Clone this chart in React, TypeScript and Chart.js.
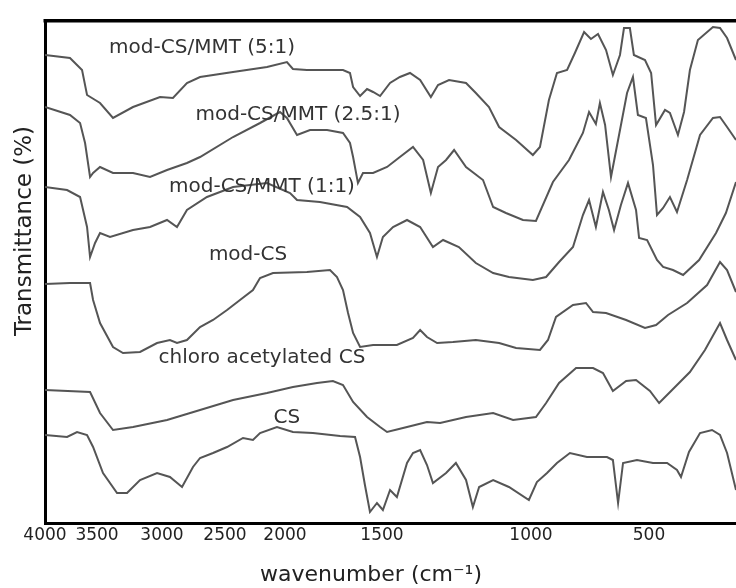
import React, { useEffect, useRef } from 'react';
import { Chart, registerables, LinearScale } from 'chart.js';

// ---- Axis definition (wavenumber axis with segmented scale, as in the original figure) ----
const WAVENUMBER_TICKS = [4000, 3500, 3000, 2500, 2000, 1500, 1000, 500];
const AXIS_BREAKS = [4000, 3500, 3000, 2500, 2000, 1500, 1000, 500, 130];
const AXIS_FRACTIONS = [0, 0.0753, 0.1693, 0.2605, 0.3473, 0.4877, 0.7033, 0.8741, 1];

// ---- Spectra: [wavenumber (cm-1), transmittance (a.u., stacked)] ----
const modCSMMT51: [number, number][] = [
  [4000, 468], [3760, 465], [3644, 453], [3596, 428], [3477, 420], [3377, 405], [3223, 416], [3015, 426],
  [2913, 425], [2802, 440], [2698, 446], [2433, 451], [2150, 456], [1990, 461], [1959, 454], [1887, 453],
  [1701, 453], [1665, 450], [1649, 436], [1613, 427], [1577, 434], [1546, 431], [1510, 427], [1473, 440],
  [1440, 446], [1406, 450], [1372, 443], [1336, 426], [1312, 438], [1275, 443], [1218, 440], [1185, 430],
  [1141, 416], [1107, 396], [1050, 383], [992, 368], [962, 376], [924, 423], [890, 450], [847, 453],
  [814, 470], [775, 491], [746, 484], [716, 489], [682, 473], [653, 448], [623, 468], [606, 495],
  [581, 495], [564, 468], [517, 463], [491, 450], [470, 398], [432, 413], [411, 410], [377, 388],
  [351, 411], [326, 453], [292, 483], [228, 496], [198, 495], [168, 485], [130, 463],
];

const modCSMMT251: [number, number][] = [
  [4000, 416], [3760, 408], [3663, 400], [3615, 380], [3567, 346], [3538, 350], [3477, 356], [3377, 350],
  [3223, 350], [3092, 346], [2960, 353], [2802, 360], [2698, 366], [2433, 386], [2208, 400], [2042, 411],
  [1990, 405], [1938, 388], [1871, 393], [1783, 393], [1701, 390], [1665, 380], [1649, 366], [1624, 340],
  [1598, 350], [1546, 350], [1483, 356], [1440, 366], [1396, 376], [1362, 363], [1336, 330], [1312, 356],
  [1285, 363], [1258, 373], [1218, 356], [1161, 343], [1127, 316], [1084, 310], [1027, 303], [979, 302],
  [907, 341], [839, 363], [780, 390], [754, 411], [725, 399], [708, 420], [686, 398], [661, 346],
  [631, 383], [593, 430], [568, 446], [547, 408], [513, 405], [483, 358], [466, 308], [440, 315],
  [411, 326], [381, 311], [338, 343], [283, 388], [228, 405], [198, 406], [168, 396], [130, 383],
];

const modCSMMT11: [number, number][] = [
  [4000, 336], [3788, 333], [3663, 326], [3596, 296], [3567, 266], [3519, 280], [3477, 290], [3400, 286],
  [3223, 293], [3092, 296], [2960, 303], [2881, 296], [2802, 313], [2643, 326], [2433, 336], [2150, 340],
  [1974, 330], [1938, 323], [1820, 321], [1680, 316], [1613, 306], [1562, 290], [1526, 266], [1497, 286],
  [1463, 296], [1416, 303], [1372, 296], [1329, 276], [1295, 283], [1242, 276], [1185, 260], [1127, 250],
  [1074, 246], [992, 243], [936, 246], [881, 261], [822, 276], [780, 308], [754, 323], [725, 296],
  [695, 331], [670, 313], [648, 293], [619, 318], [589, 340], [555, 313], [542, 285], [508, 283],
  [466, 263], [440, 256], [398, 253], [355, 248], [287, 263], [215, 290], [173, 310], [130, 341],
];

const modCS: [number, number][] = [
  [4000, 239], [3760, 240], [3567, 240], [3538, 223], [3477, 200], [3377, 176], [3300, 170], [3169, 171],
  [3038, 180], [2937, 183], [2881, 180], [2802, 183], [2698, 196], [2595, 203], [2483, 213], [2375, 223],
  [2267, 233], [2208, 245], [2100, 250], [1887, 251], [1768, 253], [1732, 246], [1701, 233], [1675, 210],
  [1649, 190], [1613, 176], [1546, 178], [1450, 178], [1396, 185], [1372, 193], [1349, 186], [1315, 180],
  [1262, 181], [1185, 183], [1107, 180], [1050, 175], [962, 173], [928, 183], [894, 206], [822, 218],
  [767, 220], [737, 211], [682, 210], [597, 203], [517, 195], [470, 198], [419, 208], [338, 220],
  [253, 238], [198, 261], [168, 253], [130, 231],
];

const chloroAcetylatedCS: [number, number][] = [
  [4000, 133], [3567, 131], [3477, 110], [3377, 93], [3223, 96], [2960, 103], [2698, 113], [2433, 123],
  [2150, 130], [1959, 136], [1835, 140], [1753, 142], [1701, 138], [1649, 121], [1577, 106], [1510, 96],
  [1483, 91], [1416, 96], [1349, 101], [1305, 100], [1218, 106], [1127, 110], [1060, 103], [979, 106],
  [936, 120], [881, 140], [809, 155], [737, 155], [695, 150], [653, 132], [597, 142], [555, 143],
  [496, 132], [457, 120], [402, 133], [326, 151], [262, 173], [198, 200], [168, 183], [130, 163],
];

const chitosanCS: [number, number][] = [
  [4000, 88], [3788, 86], [3692, 91], [3596, 88], [3538, 76], [3454, 50], [3346, 30], [3269, 30],
  [3169, 43], [3038, 50], [2937, 46], [2841, 36], [2754, 56], [2698, 65], [2595, 70], [2483, 76],
  [2350, 85], [2267, 83], [2208, 90], [2067, 96], [1959, 91], [1856, 90], [1716, 87], [1639, 86],
  [1613, 66], [1588, 38], [1562, 11], [1526, 20], [1497, 13], [1473, 33], [1450, 26], [1416, 60],
  [1396, 70], [1372, 73], [1349, 58], [1329, 40], [1285, 50], [1252, 60], [1218, 43], [1195, 16],
  [1174, 36], [1127, 43], [1074, 36], [1007, 23], [975, 41], [932, 50], [890, 60], [835, 70],
  [763, 66], [678, 66], [653, 63], [631, 20], [610, 60], [551, 63], [483, 60], [423, 60],
  [381, 53], [364, 46], [330, 71], [283, 90], [232, 93], [198, 88], [168, 70], [130, 33],
];

const SERIES_NAMES = [
  'mod-CS/MMT (5:1)',
  'mod-CS/MMT (2.5:1)',
  'mod-CS/MMT (1:1)',
  'mod-CS',
  'chloro acetylated CS',
  'CS',
];
const SERIES = [modCSMMT51, modCSMMT251, modCSMMT11, modCS, chloroAcetylatedCS, chitosanCS];

// in-plot labels (anchored in data coordinates)
const LABEL_WAVENUMBERS = [2682, 1933, 2192, 2308, 2192, 1990];
const LABEL_VALUES = [475, 408, 336, 268, 165, 105];

const X_TITLE = 'wavenumber (cm\u207B\u00B9)';
const Y_TITLE = 'Transmittance (%)';

function waveToFraction(v: number): number {
  const b = AXIS_BREAKS;
  const f = AXIS_FRACTIONS;
  let i = 0;
  if (v >= b[0]) i = 0;
  else if (v <= b[b.length - 1]) i = b.length - 2;
  else {
    for (let k = 0; k < b.length - 1; k++) {
      if (v <= b[k] && v >= b[k + 1]) { i = k; break; }
    }
  }
  return f[i] + ((b[i] - v) / (b[i] - b[i + 1])) * (f[i + 1] - f[i]);
}

function fractionToWave(fr: number): number {
  const b = AXIS_BREAKS;
  const f = AXIS_FRACTIONS;
  let i = 0;
  if (fr <= f[0]) i = 0;
  else if (fr >= f[f.length - 1]) i = f.length - 2;
  else {
    for (let k = 0; k < f.length - 1; k++) {
      if (fr >= f[k] && fr <= f[k + 1]) { i = k; break; }
    }
  }
  return b[i] - ((fr - f[i]) / (f[i + 1] - f[i])) * (b[i] - b[i + 1]);
}

class SegmentedScale extends LinearScale {
  static id = 'segmented';
  static defaults = LinearScale.defaults;
  getPixelForValue(value: number) {
    return this.getPixelForDecimal(waveToFraction(value));
  }
  getValueForPixel(pixel: number) {
    return fractionToWave(this.getDecimalForPixel(pixel));
  }
}

Chart.register(...registerables, SegmentedScale);

const decorPlugin = {
  id: 'decor',
  afterDraw(chart: any) {
    const { ctx, chartArea, scales } = chart;
    ctx.save();
    // top frame line
    ctx.fillStyle = '#000';
    ctx.fillRect(chartArea.left - 1.5, chartArea.top - 2, chartArea.right - chartArea.left + 2, 3.5);

    // curve labels
    ctx.fillStyle = '#333';
    ctx.font = '20px "DejaVu Sans"';
    ctx.textAlign = 'center';
    ctx.textBaseline = 'middle';
    SERIES_NAMES.forEach((name, i) => {
      ctx.fillText(name, scales.x.getPixelForValue(LABEL_WAVENUMBERS[i]), scales.y.getPixelForValue(LABEL_VALUES[i]));
    });

    // axis titles
    ctx.fillStyle = '#222';
    ctx.font = '22px "DejaVu Sans"';
    ctx.fillText(X_TITLE, 371, 575);

    ctx.translate(25, 231);
    ctx.rotate(-Math.PI / 2);
    ctx.font = '23px "DejaVu Sans"';
    ctx.fillText(Y_TITLE, 0, 0);
    ctx.restore();
  },
};

export default function App() {
  const canvasRef = useRef<HTMLCanvasElement | null>(null);

  useEffect(() => {
    if (!canvasRef.current) return;
    const chart = new Chart(canvasRef.current, {
      type: 'line',
      data: {
        datasets: SERIES.map((s, i) => ({
          label: SERIES_NAMES[i],
          data: s.map(([x, y]) => ({ x, y })),
          borderColor: '#555555',
          borderWidth: 2,
          pointRadius: 0,
          tension: 0,
          fill: false,
        })),
      },
      options: {
        responsive: false,
        animation: false,
        layout: { padding: { top: 21, right: 0, left: 0, bottom: 0 } },
        plugins: {
          legend: { display: false },
          tooltip: { enabled: false },
        },
        scales: {
          x: {
            type: 'segmented' as any,
            min: 130,
            max: 4000,
            afterBuildTicks: (s: any) => {
              s.ticks = WAVENUMBER_TICKS.map((value) => ({ value }));
            },
            afterFit: (s: any) => {
              s.height = 65;
            },
            grid: { display: false, drawTicks: false },
            border: { display: true, color: '#000', width: 3 },
            ticks: {
              autoSkip: false,
              maxRotation: 0,
              padding: 2,
              color: '#222',
              font: { family: 'DejaVu Sans', size: 17 },
              callback: (v: any) => String(v),
            },
          },
          y: {
            min: 0,
            max: 502,
            afterFit: (s: any) => {
              s.width = 45;
            },
            grid: { display: false, drawTicks: false },
            border: { display: true, color: '#000', width: 3 },
            ticks: { display: false },
          },
        },
      },
      plugins: [decorPlugin],
    });
    return () => chart.destroy();
  }, []);

  return (
    <div style={{ position: 'absolute', left: 0, top: 0, width: 736, height: 588, background: '#fff' }}>
      <canvas ref={canvasRef} width={736} height={588} />
    </div>
  );
}
